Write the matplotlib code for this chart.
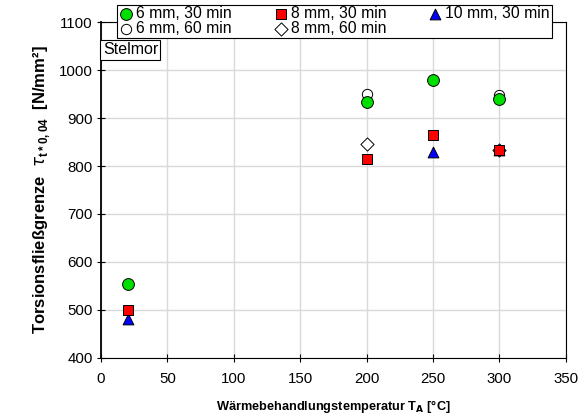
import matplotlib
matplotlib.use("Agg")
import matplotlib.pyplot as plt

plt.rcParams['font.family'] = ['Liberation Sans', 'DejaVu Sans']

# temperatures and yield stress values
t_6_30 = [20, 200, 250, 300]
v_6_30 = [555, 933, 980, 940]
t_8_30 = [20, 200, 250, 300]
v_8_30 = [500, 815, 865, 834]
t_10_30 = [20, 250, 300]
v_10_30 = [480, 830, 834]
t_6_60 = [200, 300]
v_6_60 = [950, 948]
t_8_60 = [200, 300]
v_8_60 = [845, 834]

x_ticks = [0, 50, 100, 150, 200, 250, 300, 350]
y_ticks = [400, 500, 600, 700, 800, 900, 1000, 1100]

fig = plt.figure(figsize=(5.87, 4.19), dpi=100)
ax = fig.add_axes([0.172, 0.146, 0.792, 0.801])

h_660 = ax.scatter(t_6_60, v_6_60, marker='o', s=55, facecolor='white', edgecolor='black', linewidth=0.7, zorder=3, label="6 mm, 60 min")
h_630 = ax.scatter(t_6_30, v_6_30, marker='o', s=72, facecolor='#00e000', edgecolor='black', linewidth=0.7, zorder=4, label="6 mm, 30 min")
h_860 = ax.scatter(t_8_60, v_8_60, marker='D', s=45, facecolor='white', edgecolor='black', linewidth=0.7, zorder=3, label="8 mm, 60 min")
h_1030 = ax.scatter(t_10_30, v_10_30, marker='^', s=60, facecolor='#0000ff', edgecolor='black', linewidth=0.7, zorder=4, label="10 mm, 30 min")
h_830 = ax.scatter(t_8_30, v_8_30, marker='s', s=55, facecolor='#ff0000', edgecolor='black', linewidth=0.7, zorder=5, label="8 mm, 30 min")

ax.set_xlim(0, 350)
ax.set_ylim(400, 1100)
ax.set_xticks(x_ticks)
ax.set_yticks(y_ticks)
ax.grid(True, color='#d9d9d9', linewidth=1.0)
ax.set_axisbelow(True)
ax.tick_params(direction='inout', length=6, width=0.8, labelsize=10.8)
ax.tick_params(axis='x', pad=7)
ax.tick_params(axis='y', pad=3)
for s in ax.spines.values():
    s.set_linewidth(0.8)
ax.spines['left'].set_linewidth(1.3)

ax.set_xlabel("Wärmebehandlungstemperatur T$_\\mathbf{A}$ [°C]", fontsize=9.2, fontweight='bold', labelpad=9)
ax.set_ylabel("Torsionsfließgrenze  $\\tau_{\\mathregular{t*0,04}}$  [N/mm²]", fontsize=12, fontweight='bold', labelpad=5)

leg = ax.legend(handles=[h_630, h_660, h_830, h_860, h_1030], ncol=3, loc='upper left',
                bbox_to_anchor=(0.034, 1.052), fontsize=11.3, frameon=True, fancybox=False,
                edgecolor='black', framealpha=1, handletextpad=0.15, columnspacing=2.6,
                labelspacing=0.0, borderpad=0.1, borderaxespad=0, handlelength=1.0, scatterpoints=1)
leg.get_frame().set_linewidth(0.8)

ax.text(0.004, 0.94, "Stelmor", transform=ax.transAxes, fontsize=11.5, va='top', ha='left',
        bbox=dict(boxstyle='square,pad=0.15', facecolor='white', edgecolor='black', linewidth=0.8))

fig.savefig("out.png", dpi=100)
